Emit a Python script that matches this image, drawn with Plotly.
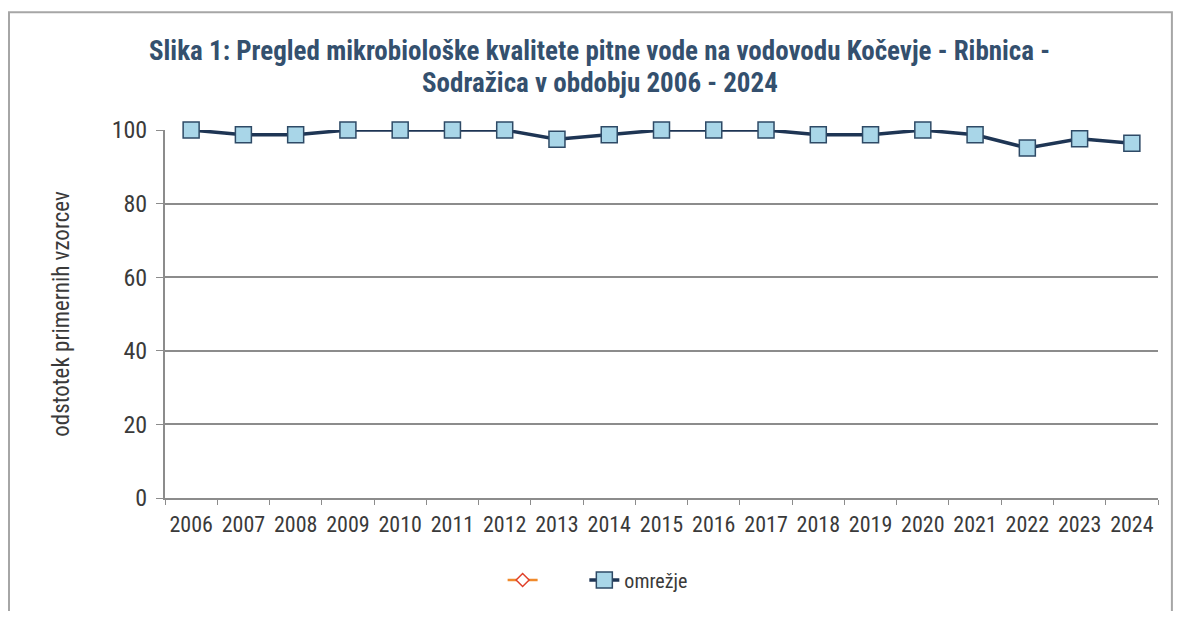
import plotly.graph_objects as go

# podatki
leta = [str(y) for y in range(2006, 2025)]
omrezje = [100, 98.7, 98.7, 100, 100, 100, 100, 97.5, 98.7, 100,
           100, 100, 98.7, 98.7, 100, 98.7, 95.1, 97.6, 96.4]
y_ticks = [0, 20, 40, 60, 80, 100]
naslov_1 = "Slika 1: Pregled mikrobiološke kvalitete pitne vode na vodovodu Kočevje - Ribnica -"
naslov_2 = "Sodražica v obdobju 2006 - 2024"

FONT = "Liberation Sans Narrow, Arial Narrow, Roboto Condensed, Liberation Sans, Arial, sans-serif"
TXT = "#3A3A3A"
GRID = "#8C8C8C"

fig = go.Figure()

# prazna serija (samo v legendi, brez imena; nbsp za razmik)
fig.add_trace(
    go.Scatter(
        x=leta,
        y=[None] * len(leta),
        mode="lines+markers",
        name="\u00a0" * 8,
        line=dict(color="#F08A2C", width=2.5),
        marker=dict(symbol="diamond", size=10, color="white",
                    line=dict(color="#E0402A", width=1.5)),
    )
)

fig.add_trace(
    go.Scatter(
        x=leta,
        y=omrezje,
        mode="lines+markers",
        name="omrežje",
        cliponaxis=False,
        line=dict(color="#1E3554", width=3.5),
        marker=dict(symbol="square", size=16, color="#A9D6E8",
                    line=dict(color="#2E4A66", width=1.5)),
    )
)

# naslov v dveh vrsticah (za razmik med vrsticama)
for txt, yy in [(naslov_1, 1.215), (naslov_2, 1.129)]:
    fig.add_annotation(
        text=f"<b>{txt}</b>",
        xref="paper",
        yref="paper",
        x=0.438,
        y=yy,
        xanchor="center",
        yanchor="middle",
        showarrow=False,
        font=dict(family=FONT, size=27, color="#34506E"),
    )

fig.update_layout(
    width=1166,
    height=603,
    margin=dict(l=157, r=16, t=122, b=109),
    paper_bgcolor="white",
    plot_bgcolor="white",
    font=dict(family=FONT, color=TXT, size=22),
    xaxis=dict(
        type="category",
        range=[-0.5, len(leta) - 0.5],
        showgrid=False,
        showline=True,
        linecolor=GRID,
        linewidth=2,
        ticks="outside",
        tickson="boundaries",
        ticklen=5,
        tickcolor=GRID,
        tickangle=0,
        ticklabelstandoff=6,
        tickfont=dict(size=22, color=TXT),
    ),
    yaxis=dict(
        range=[0, 100],
        tickvals=y_ticks,
        showgrid=True,
        gridcolor=GRID,
        gridwidth=1.5,
        showline=True,
        linecolor=GRID,
        linewidth=2,
        ticks="outside",
        ticklen=7,
        tickcolor=GRID,
        ticklabelstandoff=4,
        zeroline=False,
        tickfont=dict(size=24, color=TXT),
        title=dict(text="odstotek primernih vzorcev", standoff=36,
                   font=dict(size=23, color=TXT)),
    ),
    legend=dict(
        orientation="h",
        x=0.340,
        xanchor="left",
        y=-0.223,
        yanchor="middle",
        font=dict(size=20, color=TXT),
    ),
    shapes=[
        dict(
            type="rect",
            xref="paper",
            yref="paper",
            x0=-0.1571,
            x1=1.014,
            y0=-0.4,
            y1=1.3199,
            line=dict(color="#A6A6A6", width=2),
            fillcolor="rgba(0,0,0,0)",
            layer="below",
        )
    ],
)

fig.write_html("out.html")
